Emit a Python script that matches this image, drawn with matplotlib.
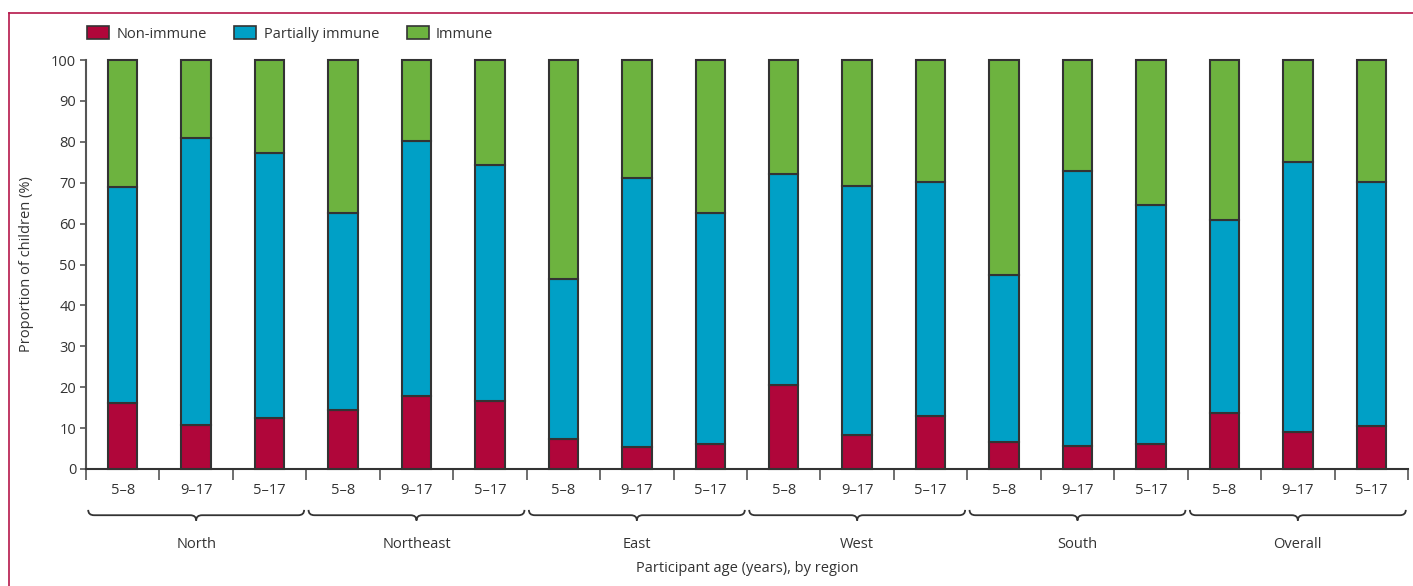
import matplotlib.pyplot as plt
import numpy as np
from matplotlib.path import Path
from matplotlib.patches import PathPatch, Patch
from matplotlib.lines import Line2D
from matplotlib.transforms import blended_transform_factory

plt.rcParams['font.family'] = ['Open Sans', 'DejaVu Sans']
plt.rcParams['text.color'] = '#333333'
plt.rcParams['axes.labelcolor'] = '#333333'
plt.rcParams['xtick.color'] = '#333333'
plt.rcParams['ytick.color'] = '#333333'

regions = ["North", "Northeast", "East", "West", "South", "Overall"]
age_groups = ["5–8", "9–17", "5–17"]

# one value per bar: regions in order, ages 5-8, 9-17, 5-17 within each
non_immune = [16.1, 10.8, 12.4, 14.5, 17.8, 16.6, 7.3, 5.5, 6.1,
              20.6, 8.4, 13.0, 6.6, 5.6, 6.1, 13.7, 9.0, 10.5]
partially_immune = [52.9, 70.1, 64.9, 48.2, 62.4, 57.7, 39.2, 65.6, 56.5,
                    51.5, 60.7, 57.2, 40.9, 67.3, 58.4, 47.2, 66.1, 59.7]
immune = [31.0, 19.1, 22.7, 37.3, 19.8, 25.7, 53.5, 28.9, 37.4,
          27.9, 30.9, 29.8, 52.5, 27.1, 35.5, 39.1, 24.9, 29.8]

red = '#B0063A'
blue = '#00A0C6'
green = '#6DB33F'
edge = '#333333'
border = '#B5174A'

fig = plt.figure(figsize=(14.13, 5.86), dpi=100)
ax = fig.add_axes([86/1413, 1 - 469/586, 1322/1413, 409/586])

x = np.arange(len(non_immune))
w = 0.40
bar_kw = dict(width=w, edgecolor=edge, linewidth=1.5, clip_on=False, zorder=3)
non = np.array(non_immune)
part = np.array(partially_immune)
ax.bar(x, non, color=red, **bar_kw)
ax.bar(x, part, bottom=non, color=blue, **bar_kw)
ax.bar(x, immune, bottom=non + part, color=green, **bar_kw)

ax.set_xlim(-0.5, len(x) - 0.5)
ax.set_ylim(0, 100)
ax.set_yticks(np.arange(0, 101, 10))
ax.tick_params(axis='y', length=4, width=1.2, pad=3, labelsize=10.5, colors='#555555', labelcolor='#333333')
ax.set_xticks(x)
ax.set_xticklabels(age_groups * len(regions))
ax.set_xticks(np.arange(-0.5, len(x), 1), minor=True)
ax.tick_params(axis='x', which='major', length=0, pad=10, labelsize=10.5)
ax.tick_params(axis='x', which='minor', length=8, width=1.2, color='#555555')

for s in ['top', 'right']:
    ax.spines[s].set_visible(False)
ax.spines['left'].set_color('#555555')
ax.spines['left'].set_linewidth(1.5)
ax.spines['bottom'].set_color('#333333')
ax.spines['bottom'].set_linewidth(1.5)

ax.set_ylabel("Proportion of children (%)", fontsize=10.5, labelpad=12)
fig.text(747/1413, 1 - 569/586, "Participant age (years), by region",
         ha='center', va='center', fontsize=10.5)

# curly braces under each region
trans = blended_transform_factory(ax.transData, ax.transAxes)
y_top, y_mid, y_tip = -0.100, -0.113, -0.126
for i, name in enumerate(regions):
    x0 = 3*i - 0.47
    x1 = 3*i + 2.47
    xc = 3*i + 1
    r = 0.08
    verts = [(x0, y_top), (x0, y_mid), (x0 + r, y_mid),
             (xc - r, y_mid), (xc, y_mid), (xc, y_tip),
             (xc, y_mid), (xc + r, y_mid),
             (x1 - r, y_mid), (x1, y_mid), (x1, y_top)]
    codes = [Path.MOVETO, Path.CURVE3, Path.CURVE3,
             Path.LINETO, Path.CURVE3, Path.CURVE3,
             Path.CURVE3, Path.CURVE3,
             Path.LINETO, Path.CURVE3, Path.CURVE3]
    ax.add_patch(PathPatch(Path(verts, codes), transform=trans, fill=False,
                           edgecolor='#333333', linewidth=1.3, clip_on=False))
    ax.text(xc, -0.184, name, transform=trans, ha='center', va='center', fontsize=10.5)

handles = [Patch(facecolor=red, edgecolor=edge, linewidth=1.2, label="Non-immune"),
           Patch(facecolor=blue, edgecolor=edge, linewidth=1.2, label="Partially immune"),
           Patch(facecolor=green, edgecolor=edge, linewidth=1.2, label="Immune")]
fig.legend(handles=handles, loc='center left', bbox_to_anchor=(74/1413, 1 - 34/586),
           ncol=3, frameon=False, fontsize=10.5, handlelength=1.5, handleheight=1.0,
           handletextpad=0.5, columnspacing=1.9)

# panel border on top and left
fig.add_artist(Line2D([9/1413, 1], [1 - 13/586, 1 - 13/586], color=border, linewidth=1.2))
fig.add_artist(Line2D([9/1413, 9/1413], [0, 1 - 13/586], color=border, linewidth=1.2))

fig.savefig("out.png", dpi=100)
